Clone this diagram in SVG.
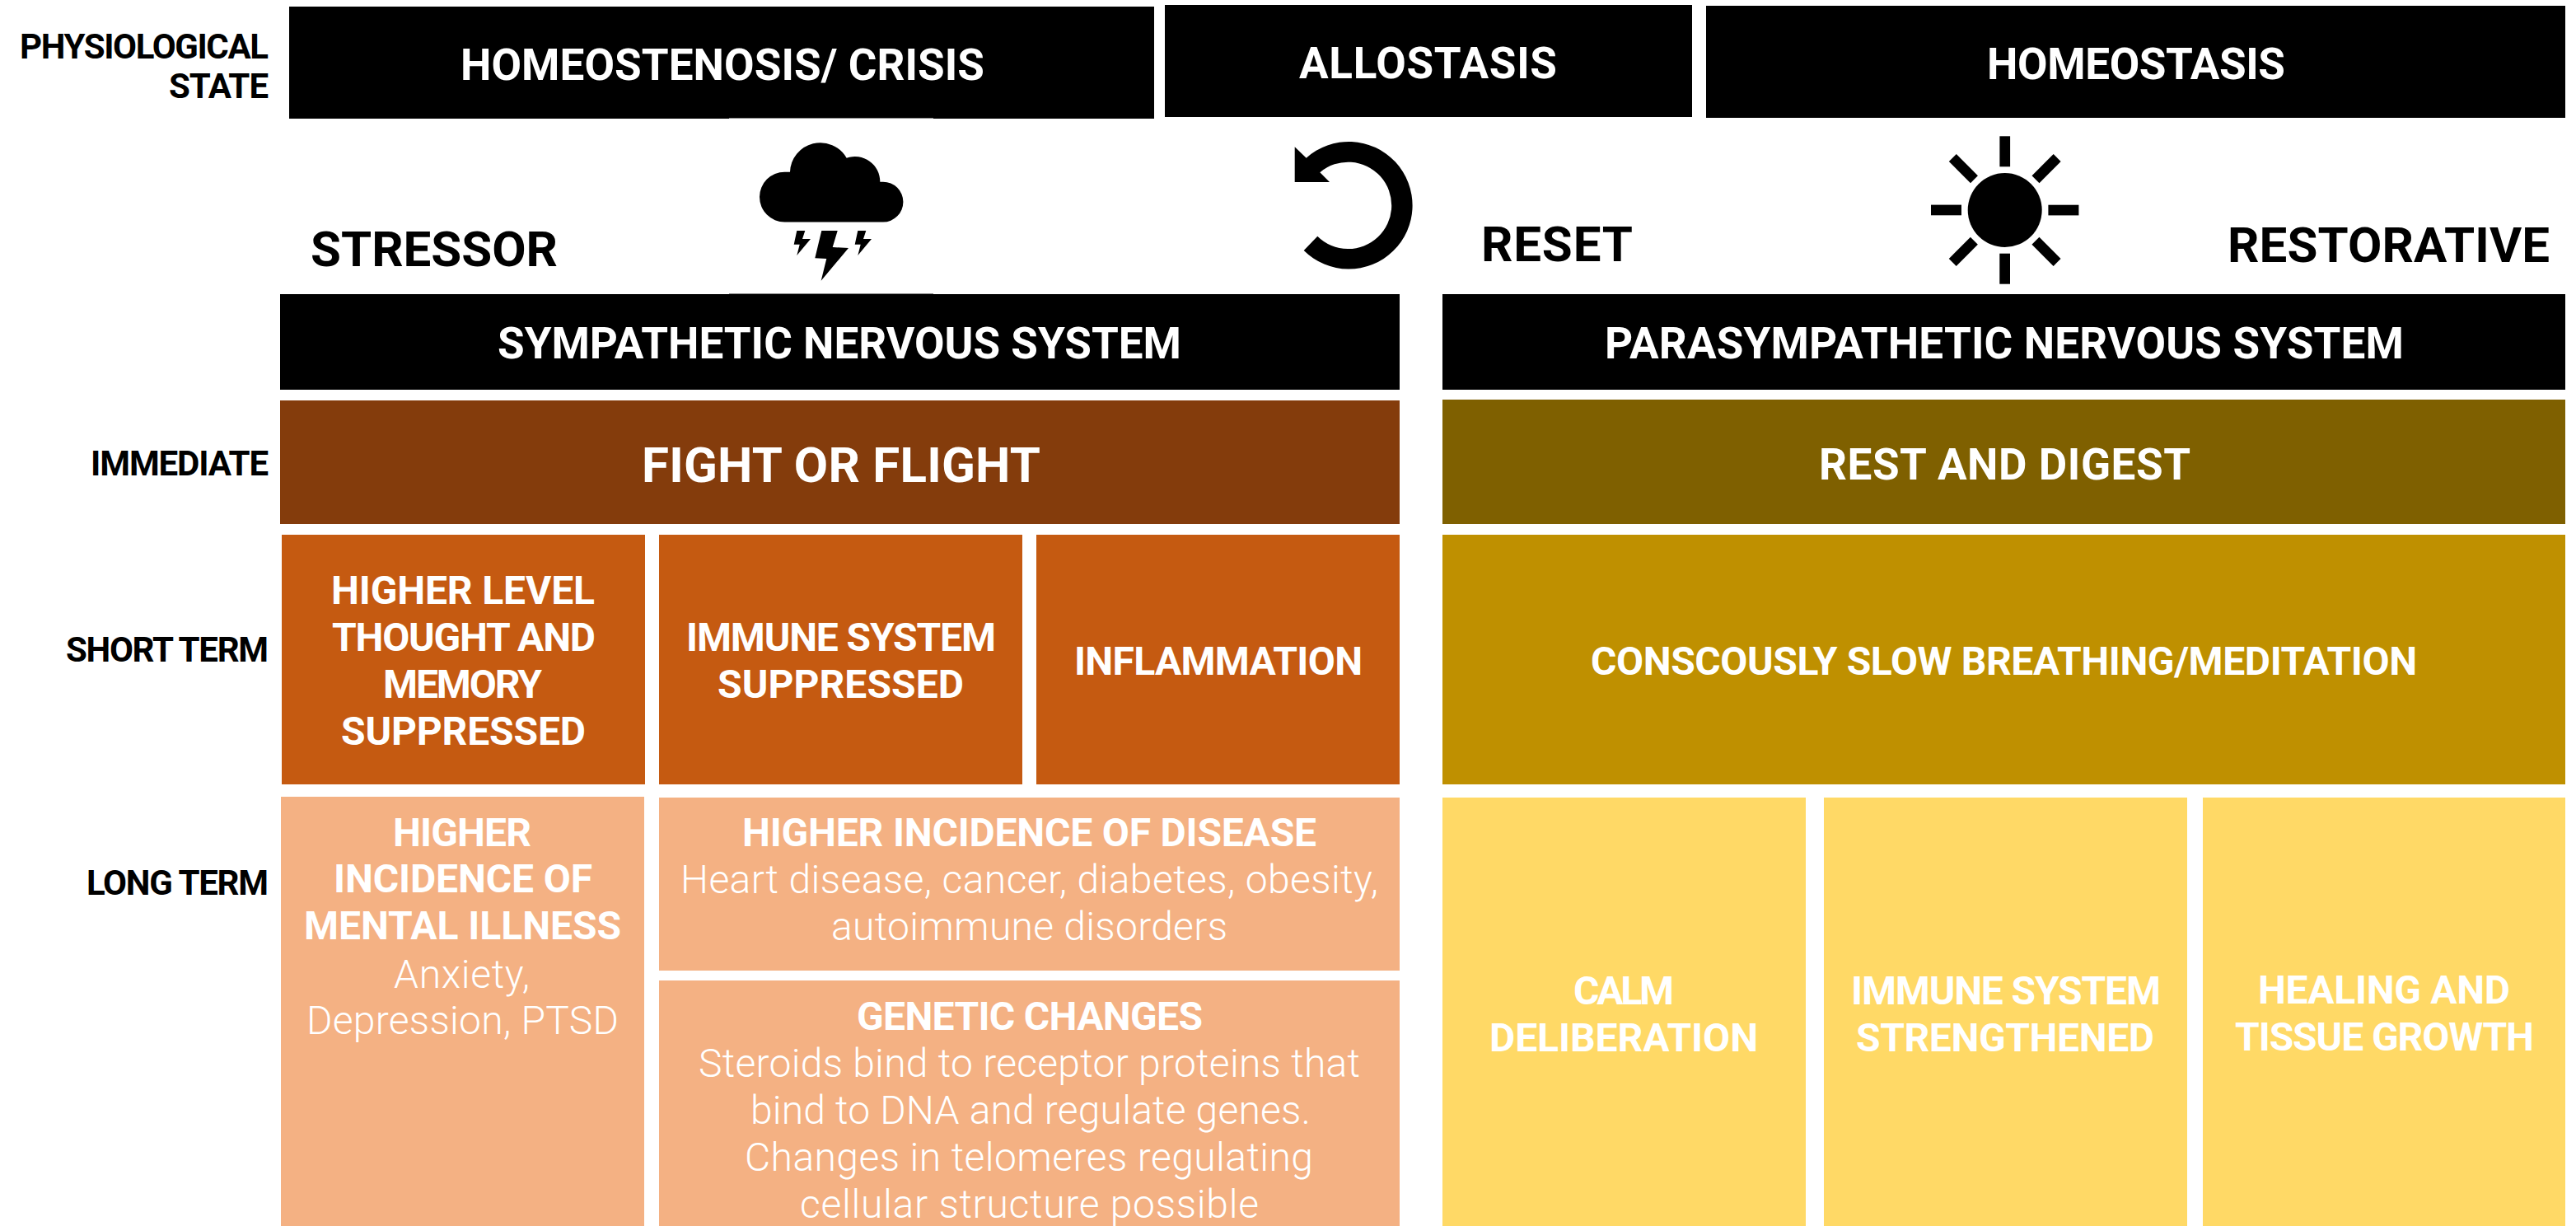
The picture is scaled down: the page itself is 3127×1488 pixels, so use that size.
<svg xmlns="http://www.w3.org/2000/svg" width="3127" height="1488" viewBox="0 0 3127 1488">
<style>
text{font-family:Roboto,"Liberation Sans",sans-serif;font-weight:700}
.w{fill:#fff}.k{fill:#000}.l{font-weight:300;fill:#fff;font-size:48px}
.s42{font-size:42px}.s49{font-size:48px}.s55{font-size:53px}.s60{font-size:60px}
.black{fill:#000}.brown{fill:#843C0C}.orange{fill:#C55A11}.peach{fill:#F4B183}.olive{fill:#7F6000}.gold{fill:#BF9000}.yellow{fill:#FFD966}
</style>
<rect width="3127" height="1488" fill="#fff"/>
<g id="row-labels">
<text class="k s42" x="24" y="71" textLength="302">PHYSIOLOGICAL</text>
<text class="k s42" x="205" y="119" textLength="121">STATE</text>
<text class="k s42" x="110" y="577" textLength="216">IMMEDIATE</text>
<text class="k s42" x="80" y="803" textLength="246">SHORT TERM</text>
<text class="k s42" x="105" y="1086" textLength="221">LONG TERM</text>
</g>
<g id="state-crisis"><rect class="black" x="351" y="8" width="1050" height="136"/><text class="w s55" x="559" y="97" textLength="636">HOMEOSTENOSIS/ CRISIS</text></g>
<g id="state-allostasis"><rect class="black" x="1414" y="6" width="640" height="136"/><text class="w s55" x="1577" y="95" textLength="313">ALLOSTASIS</text></g>
<g id="state-homeostasis"><rect class="black" x="2071" y="7" width="1043" height="136"/><text class="w s55" x="2412" y="96" textLength="362">HOMEOSTASIS</text></g>
<g id="stressor">
<text class="k s60" x="377" y="323" textLength="300">STRESSOR</text>
</g>
<g id="icon-storm">
<rect x="885" y="143" width="248" height="214" fill="#fff"/>
<rect x="885" y="143" width="248" height="1" fill="#888"/><rect x="885" y="356" width="248" height="1" fill="#888"/>
<path d="M952.4,269.5A30.4,30.4 0 0 1 952.4,208.7L959,208.7A36.8,36.8 0 0 1 1027.7,191.7A30.5,30.5 0 0 1 1068.3,220.7L1072,220.7A24.4,24.4 0 0 1 1072,269.5Z"/>
<path d="M997.3,280L1016.7,280L1010.7,300L1030,301L996.7,340.7L1003.3,314L989.3,313.3Z"/>
<path d="M967.3,280L977.3,280L974,290L984,290L967.3,310L970.7,296.7L963.7,296.7Z"/>
<path d="M1041.3,280L1051.3,280L1048,290L1058,290L1041.3,310L1044.7,296.7L1037.7,296.7Z"/>
</g>
<g id="icon-reset">
<path d="M1585.7,191.7A77.3,77.3 0 1 1 1582.7,304L1599.3,286.7A52.7,52.7 0 1 0 1602.3,209.3L1614,221L1571.7,221L1571.7,178.3Z"/>
</g>
<g id="reset"><text class="k s60" x="1798" y="317" textLength="184">RESET</text></g>
<g id="icon-sun" transform="translate(2433.7 255)">
<circle r="45"/>
<rect x="-6.3" y="-89.7" width="12.7" height="37"/>
<rect x="-6.3" y="-89.7" width="12.7" height="37" transform="rotate(45)"/>
<rect x="-6.3" y="-89.7" width="12.7" height="37" transform="rotate(90)"/>
<rect x="-6.3" y="-89.7" width="12.7" height="37" transform="rotate(135)"/>
<rect x="-6.3" y="-89.7" width="12.7" height="37" transform="rotate(180)"/>
<rect x="-6.3" y="-89.7" width="12.7" height="37" transform="rotate(225)"/>
<rect x="-6.3" y="-89.7" width="12.7" height="37" transform="rotate(270)"/>
<rect x="-6.3" y="-89.7" width="12.7" height="37" transform="rotate(315)"/>
</g>
<g id="restorative"><text class="k s60" x="2704" y="318" textLength="391">RESTORATIVE</text></g>
<g id="snS"><rect class="black" x="340" y="357" width="1359" height="116"/><text class="w s55" x="604" y="435" textLength="830">SYMPATHETIC NERVOUS SYSTEM</text></g>
<g id="pnS"><rect class="black" x="1751" y="357" width="1363" height="116"/><text class="w s55" x="1948" y="435" textLength="970">PARASYMPATHETIC NERVOUS SYSTEM</text></g>
<g id="fight"><rect class="brown" x="340" y="486" width="1359" height="150"/><text class="w s60" x="779" y="585" textLength="484">FIGHT OR FLIGHT</text></g>
<g id="rest"><rect class="olive" x="1751" y="485" width="1363" height="151"/><text class="w s55" x="2208" y="582" textLength="451">REST AND DIGEST</text></g>
<g id="thought"><rect class="orange" x="342" y="649" width="441" height="303"/>
<text class="w s49" x="402" y="733" textLength="320">HIGHER LEVEL</text>
<text class="w s49" x="403" y="790" textLength="320">THOUGHT AND</text>
<text class="w s49" x="465" y="847" textLength="193">MEMORY</text>
<text class="w s49" x="414" y="904" textLength="297">SUPPRESSED</text></g>
<g id="immune-suppressed"><rect class="orange" x="800" y="649" width="441" height="303"/>
<text class="w s49" x="833" y="790" textLength="376">IMMUNE SYSTEM</text>
<text class="w s49" x="871" y="847" textLength="299">SUPPRESSED</text></g>
<g id="inflammation"><rect class="orange" x="1258" y="649" width="441" height="303"/>
<text class="w s49" x="1304" y="819" textLength="350">INFLAMMATION</text></g>
<g id="breathing"><rect class="gold" x="1751" y="649" width="1363" height="303"/>
<text class="w s49" x="1931" y="819" textLength="1003">CONSCOUSLY SLOW BREATHING/MEDITATION</text></g>
<g id="mental"><rect class="peach" x="341" y="967" width="441" height="521"/>
<text class="w s49" x="477" y="1027" textLength="168">HIGHER</text>
<text class="w s49" x="405" y="1083" textLength="314">INCIDENCE OF</text>
<text class="w s49" x="369" y="1140" textLength="385">MENTAL ILLNESS</text>
<text class="l" x="478" y="1199" textLength="165">Anxiety,</text>
<text class="l" x="372" y="1255" textLength="379">Depression, PTSD</text></g>
<g id="disease"><rect class="peach" x="800" y="968" width="899" height="210"/>
<text class="w s49" x="901" y="1027" textLength="697">HIGHER INCIDENCE OF DISEASE</text>
<text class="l" x="826" y="1084" textLength="847">Heart disease, cancer, diabetes, obesity,</text>
<text class="l" x="1009" y="1141" textLength="481">autoimmune disorders</text></g>
<g id="genetic"><rect class="peach" x="800" y="1190" width="899" height="298"/>
<text class="w s49" x="1040" y="1250" textLength="420">GENETIC CHANGES</text>
<text class="l" x="848" y="1307" textLength="803">Steroids bind to receptor proteins that</text>
<text class="l" x="911" y="1364" textLength="680">bind to DNA and regulate genes.</text>
<text class="l" x="904" y="1421" textLength="690">Changes in telomeres regulating</text>
<text class="l" x="971" y="1478" textLength="557">cellular structure possible</text></g>
<g id="calm"><rect class="yellow" x="1751" y="968" width="441" height="520"/>
<text class="w s49" x="1910" y="1219" textLength="122">CALM</text>
<text class="w s49" x="1808" y="1276" textLength="326">DELIBERATION</text></g>
<g id="immune-strong"><rect class="yellow" x="2214" y="968" width="441" height="520"/>
<text class="w s49" x="2247" y="1219" textLength="376">IMMUNE SYSTEM</text>
<text class="w s49" x="2253" y="1276" textLength="362">STRENGTHENED</text></g>
<g id="healing"><rect class="yellow" x="2674" y="968" width="440" height="520"/>
<text class="w s49" x="2741" y="1218" textLength="306">HEALING AND</text>
<text class="w s49" x="2713" y="1275" textLength="363">TISSUE GROWTH</text></g>
<g id="connectors"/>
</svg>
